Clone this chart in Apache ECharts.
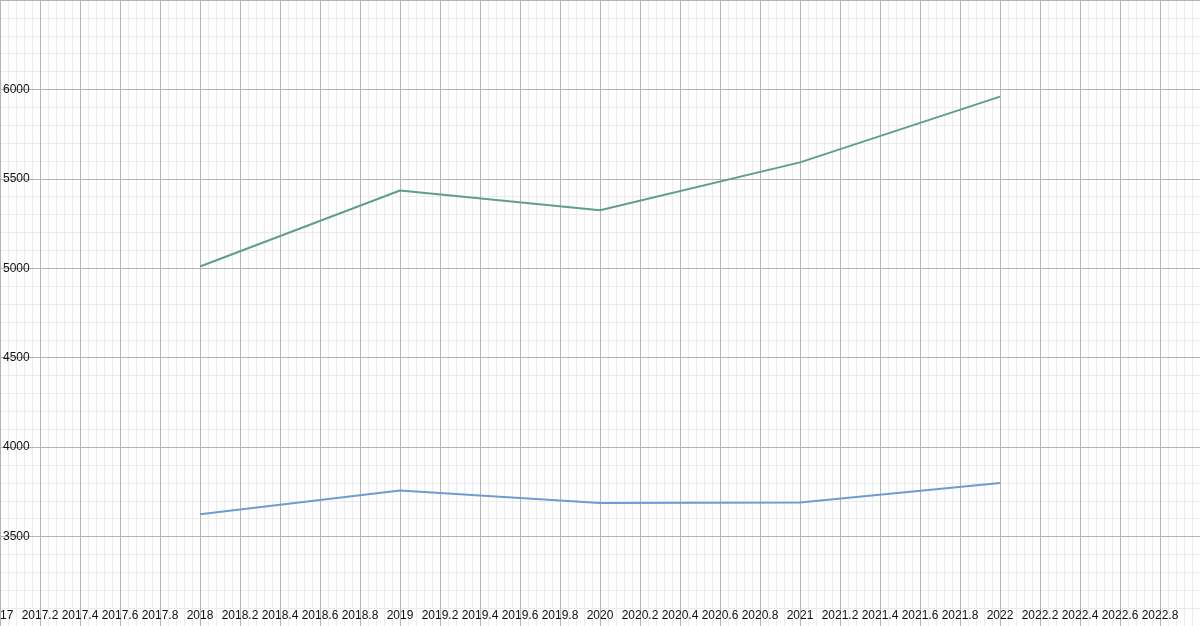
<!DOCTYPE html>
<html>
<head>
<meta charset="utf-8">
<script src="https://cdn.jsdelivr.net/npm/echarts@6/dist/echarts.min.js"></script>
<style>
  html, body { margin: 0; padding: 0; background: #fff; }
  #chart { width: 1200px; height: 626px; }
</style>
</head>
<body>
<div id="chart"></div>
<script>
const years = [2018, 2019, 2020, 2021, 2022]
const upperValues = [5010, 5435, 5325, 5592, 5960]
const lowerValues = [3625, 3758, 3688, 3690, 3800]

const chart = echarts.init(document.getElementById('chart'))

const toPairs = (vals) => years.map((y, i) => [y, vals[i]])
// plain numbers, no thousands separator
const plain = (v) => String(Math.round(v * 10) / 10)

const font = 'Liberation Sans, Arial, sans-serif'
const gridBox = { left: 0, right: 0, top: 0, bottom: 0, containLabel: false, outerBoundsMode: 'none' }

// grid 0 only paints the light minor lines, grid 1 draws the major lines on top
const xBase = { type: 'value', min: 2017, max: 2023, interval: 0.2, axisLine: { show: false }, axisTick: { show: false } }
const yBase = { type: 'value', min: 3000, max: 6500, interval: 500, axisLine: { show: false }, axisTick: { show: false } }

chart.setOption({
  animation: false,
  grid: [gridBox, gridBox],
  xAxis: [
    {
      ...xBase,
      gridIndex: 0,
      z: 0,
      axisLabel: { show: false },
      splitLine: { show: false },
      minorTick: { show: false, splitNumber: 5 },
      minorSplitLine: { show: true, lineStyle: { color: '#ebebef', width: 1 } },
    },
    {
      ...xBase,
      gridIndex: 1,
      z: 2,
      axisLabel: {
        inside: true,
        margin: 4,
        showMaxLabel: false,
        hideOverlap: false,
        formatter: plain,
        color: '#111',
        fontSize: 12,
        fontFamily: font,
      },
      splitLine: { show: true, lineStyle: { color: '#b4b4b4', width: 1, type: 'solid' } },
    },
  ],
  yAxis: [
    {
      ...yBase,
      gridIndex: 0,
      z: 0,
      axisLabel: { show: false },
      splitLine: { show: false },
      minorTick: { show: false, splitNumber: 5 },
      minorSplitLine: { show: true, lineStyle: { color: '#ebebef', width: 1 } },
    },
    {
      ...yBase,
      gridIndex: 1,
      z: 2,
      axisLabel: {
        inside: true,
        margin: 3,
        showMinLabel: false,
        showMaxLabel: false,
        formatter: plain,
        color: '#111',
        fontSize: 12,
        fontFamily: font,
      },
      splitLine: { show: true, lineStyle: { color: '#b4b4b4', width: 1, type: 'solid' } },
    },
  ],
  series: [
    {
      type: 'line',
      xAxisIndex: 1,
      yAxisIndex: 1,
      z: 3,
      data: toPairs(upperValues),
      symbol: 'none',
      lineStyle: { color: '#5f9f88', width: 2 },
    },
    {
      type: 'line',
      xAxisIndex: 1,
      yAxisIndex: 1,
      z: 3,
      data: toPairs(lowerValues),
      symbol: 'none',
      lineStyle: { color: '#6f9bcf', width: 2 },
    },
  ],
})
</script>
</body>
</html>
